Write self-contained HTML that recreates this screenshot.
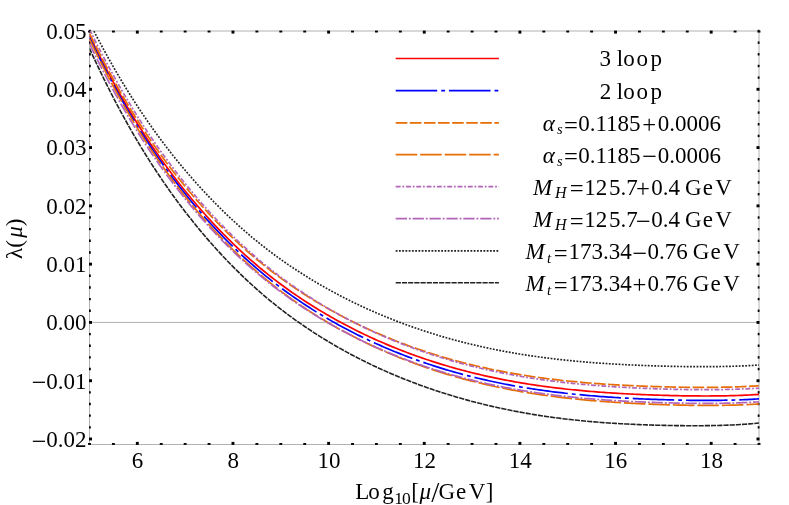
<!DOCTYPE html>
<html><head><meta charset="utf-8"><style>
html,body{margin:0;padding:0;background:#fff;}
body{width:789px;height:505px;position:relative;overflow:hidden;font-family:"Liberation Serif",serif;color:#000;}
</style></head><body>
<svg width="789" height="505" viewBox="0 0 789 505" style="position:absolute;left:0;top:0"><defs><clipPath id="c"><rect x="89.5" y="31.0" width="669.5" height="413.5"/></clipPath></defs><rect x="89.5" y="31.0" width="669.50" height="413.50" fill="none" stroke="#b2b2b2" stroke-width="1"/><line x1="89.5" y1="322.42" x2="759.0" y2="322.42" stroke="#b2b2b2" stroke-width="1"/><g stroke="#000" stroke-width="2.9"><line x1="89.50" y1="444.90" x2="89.50" y2="443.00"/><line x1="89.50" y1="30.60" x2="89.50" y2="32.50"/><line x1="113.41" y1="444.90" x2="113.41" y2="443.00"/><line x1="113.41" y1="30.60" x2="113.41" y2="32.50"/><line x1="137.32" y1="444.90" x2="137.32" y2="441.90"/><line x1="137.32" y1="30.60" x2="137.32" y2="33.60"/><line x1="161.23" y1="444.90" x2="161.23" y2="443.00"/><line x1="161.23" y1="30.60" x2="161.23" y2="32.50"/><line x1="185.14" y1="444.90" x2="185.14" y2="443.00"/><line x1="185.14" y1="30.60" x2="185.14" y2="32.50"/><line x1="209.05" y1="444.90" x2="209.05" y2="443.00"/><line x1="209.05" y1="30.60" x2="209.05" y2="32.50"/><line x1="232.96" y1="444.90" x2="232.96" y2="441.90"/><line x1="232.96" y1="30.60" x2="232.96" y2="33.60"/><line x1="256.88" y1="444.90" x2="256.88" y2="443.00"/><line x1="256.88" y1="30.60" x2="256.88" y2="32.50"/><line x1="280.79" y1="444.90" x2="280.79" y2="443.00"/><line x1="280.79" y1="30.60" x2="280.79" y2="32.50"/><line x1="304.70" y1="444.90" x2="304.70" y2="443.00"/><line x1="304.70" y1="30.60" x2="304.70" y2="32.50"/><line x1="328.61" y1="444.90" x2="328.61" y2="441.90"/><line x1="328.61" y1="30.60" x2="328.61" y2="33.60"/><line x1="352.52" y1="444.90" x2="352.52" y2="443.00"/><line x1="352.52" y1="30.60" x2="352.52" y2="32.50"/><line x1="376.43" y1="444.90" x2="376.43" y2="443.00"/><line x1="376.43" y1="30.60" x2="376.43" y2="32.50"/><line x1="400.34" y1="444.90" x2="400.34" y2="443.00"/><line x1="400.34" y1="30.60" x2="400.34" y2="32.50"/><line x1="424.25" y1="444.90" x2="424.25" y2="441.90"/><line x1="424.25" y1="30.60" x2="424.25" y2="33.60"/><line x1="448.16" y1="444.90" x2="448.16" y2="443.00"/><line x1="448.16" y1="30.60" x2="448.16" y2="32.50"/><line x1="472.07" y1="444.90" x2="472.07" y2="443.00"/><line x1="472.07" y1="30.60" x2="472.07" y2="32.50"/><line x1="495.98" y1="444.90" x2="495.98" y2="443.00"/><line x1="495.98" y1="30.60" x2="495.98" y2="32.50"/><line x1="519.89" y1="444.90" x2="519.89" y2="441.90"/><line x1="519.89" y1="30.60" x2="519.89" y2="33.60"/><line x1="543.80" y1="444.90" x2="543.80" y2="443.00"/><line x1="543.80" y1="30.60" x2="543.80" y2="32.50"/><line x1="567.71" y1="444.90" x2="567.71" y2="443.00"/><line x1="567.71" y1="30.60" x2="567.71" y2="32.50"/><line x1="591.62" y1="444.90" x2="591.62" y2="443.00"/><line x1="591.62" y1="30.60" x2="591.62" y2="32.50"/><line x1="615.54" y1="444.90" x2="615.54" y2="441.90"/><line x1="615.54" y1="30.60" x2="615.54" y2="33.60"/><line x1="639.45" y1="444.90" x2="639.45" y2="443.00"/><line x1="639.45" y1="30.60" x2="639.45" y2="32.50"/><line x1="663.36" y1="444.90" x2="663.36" y2="443.00"/><line x1="663.36" y1="30.60" x2="663.36" y2="32.50"/><line x1="687.27" y1="444.90" x2="687.27" y2="443.00"/><line x1="687.27" y1="30.60" x2="687.27" y2="32.50"/><line x1="711.18" y1="444.90" x2="711.18" y2="441.90"/><line x1="711.18" y1="30.60" x2="711.18" y2="33.60"/><line x1="735.09" y1="444.90" x2="735.09" y2="443.00"/><line x1="735.09" y1="30.60" x2="735.09" y2="32.50"/><line x1="759.00" y1="444.90" x2="759.00" y2="443.00"/><line x1="759.00" y1="30.60" x2="759.00" y2="32.50"/></g><g stroke="#000"><line x1="89.00" y1="438.99" x2="92.00" y2="438.99" stroke-width="2.9"/><line x1="759.50" y1="438.99" x2="756.50" y2="438.99" stroke-width="2.9"/><line x1="89.00" y1="427.33" x2="90.80" y2="427.33" stroke-width="2.4"/><line x1="759.50" y1="427.33" x2="757.70" y2="427.33" stroke-width="2.4"/><line x1="89.00" y1="415.67" x2="90.80" y2="415.67" stroke-width="2.4"/><line x1="759.50" y1="415.67" x2="757.70" y2="415.67" stroke-width="2.4"/><line x1="89.00" y1="404.02" x2="90.80" y2="404.02" stroke-width="2.4"/><line x1="759.50" y1="404.02" x2="757.70" y2="404.02" stroke-width="2.4"/><line x1="89.00" y1="392.36" x2="90.80" y2="392.36" stroke-width="2.4"/><line x1="759.50" y1="392.36" x2="757.70" y2="392.36" stroke-width="2.4"/><line x1="89.00" y1="380.70" x2="92.00" y2="380.70" stroke-width="2.9"/><line x1="759.50" y1="380.70" x2="756.50" y2="380.70" stroke-width="2.9"/><line x1="89.00" y1="369.05" x2="90.80" y2="369.05" stroke-width="2.4"/><line x1="759.50" y1="369.05" x2="757.70" y2="369.05" stroke-width="2.4"/><line x1="89.00" y1="357.39" x2="90.80" y2="357.39" stroke-width="2.4"/><line x1="759.50" y1="357.39" x2="757.70" y2="357.39" stroke-width="2.4"/><line x1="89.00" y1="345.73" x2="90.80" y2="345.73" stroke-width="2.4"/><line x1="759.50" y1="345.73" x2="757.70" y2="345.73" stroke-width="2.4"/><line x1="89.00" y1="334.08" x2="90.80" y2="334.08" stroke-width="2.4"/><line x1="759.50" y1="334.08" x2="757.70" y2="334.08" stroke-width="2.4"/><line x1="89.00" y1="322.42" x2="92.00" y2="322.42" stroke-width="2.9"/><line x1="759.50" y1="322.42" x2="756.50" y2="322.42" stroke-width="2.9"/><line x1="89.00" y1="310.76" x2="90.80" y2="310.76" stroke-width="2.4"/><line x1="759.50" y1="310.76" x2="757.70" y2="310.76" stroke-width="2.4"/><line x1="89.00" y1="299.11" x2="90.80" y2="299.11" stroke-width="2.4"/><line x1="759.50" y1="299.11" x2="757.70" y2="299.11" stroke-width="2.4"/><line x1="89.00" y1="287.45" x2="90.80" y2="287.45" stroke-width="2.4"/><line x1="759.50" y1="287.45" x2="757.70" y2="287.45" stroke-width="2.4"/><line x1="89.00" y1="275.79" x2="90.80" y2="275.79" stroke-width="2.4"/><line x1="759.50" y1="275.79" x2="757.70" y2="275.79" stroke-width="2.4"/><line x1="89.00" y1="264.14" x2="92.00" y2="264.14" stroke-width="2.9"/><line x1="759.50" y1="264.14" x2="756.50" y2="264.14" stroke-width="2.9"/><line x1="89.00" y1="252.48" x2="90.80" y2="252.48" stroke-width="2.4"/><line x1="759.50" y1="252.48" x2="757.70" y2="252.48" stroke-width="2.4"/><line x1="89.00" y1="240.82" x2="90.80" y2="240.82" stroke-width="2.4"/><line x1="759.50" y1="240.82" x2="757.70" y2="240.82" stroke-width="2.4"/><line x1="89.00" y1="229.17" x2="90.80" y2="229.17" stroke-width="2.4"/><line x1="759.50" y1="229.17" x2="757.70" y2="229.17" stroke-width="2.4"/><line x1="89.00" y1="217.51" x2="90.80" y2="217.51" stroke-width="2.4"/><line x1="759.50" y1="217.51" x2="757.70" y2="217.51" stroke-width="2.4"/><line x1="89.00" y1="205.85" x2="92.00" y2="205.85" stroke-width="2.9"/><line x1="759.50" y1="205.85" x2="756.50" y2="205.85" stroke-width="2.9"/><line x1="89.00" y1="194.20" x2="90.80" y2="194.20" stroke-width="2.4"/><line x1="759.50" y1="194.20" x2="757.70" y2="194.20" stroke-width="2.4"/><line x1="89.00" y1="182.54" x2="90.80" y2="182.54" stroke-width="2.4"/><line x1="759.50" y1="182.54" x2="757.70" y2="182.54" stroke-width="2.4"/><line x1="89.00" y1="170.88" x2="90.80" y2="170.88" stroke-width="2.4"/><line x1="759.50" y1="170.88" x2="757.70" y2="170.88" stroke-width="2.4"/><line x1="89.00" y1="159.22" x2="90.80" y2="159.22" stroke-width="2.4"/><line x1="759.50" y1="159.22" x2="757.70" y2="159.22" stroke-width="2.4"/><line x1="89.00" y1="147.57" x2="92.00" y2="147.57" stroke-width="2.9"/><line x1="759.50" y1="147.57" x2="756.50" y2="147.57" stroke-width="2.9"/><line x1="89.00" y1="135.91" x2="90.80" y2="135.91" stroke-width="2.4"/><line x1="759.50" y1="135.91" x2="757.70" y2="135.91" stroke-width="2.4"/><line x1="89.00" y1="124.25" x2="90.80" y2="124.25" stroke-width="2.4"/><line x1="759.50" y1="124.25" x2="757.70" y2="124.25" stroke-width="2.4"/><line x1="89.00" y1="112.60" x2="90.80" y2="112.60" stroke-width="2.4"/><line x1="759.50" y1="112.60" x2="757.70" y2="112.60" stroke-width="2.4"/><line x1="89.00" y1="100.94" x2="90.80" y2="100.94" stroke-width="2.4"/><line x1="759.50" y1="100.94" x2="757.70" y2="100.94" stroke-width="2.4"/><line x1="89.00" y1="89.28" x2="92.00" y2="89.28" stroke-width="2.9"/><line x1="759.50" y1="89.28" x2="756.50" y2="89.28" stroke-width="2.9"/><line x1="89.00" y1="77.63" x2="90.80" y2="77.63" stroke-width="2.4"/><line x1="759.50" y1="77.63" x2="757.70" y2="77.63" stroke-width="2.4"/><line x1="89.00" y1="65.97" x2="90.80" y2="65.97" stroke-width="2.4"/><line x1="759.50" y1="65.97" x2="757.70" y2="65.97" stroke-width="2.4"/><line x1="89.00" y1="54.31" x2="90.80" y2="54.31" stroke-width="2.4"/><line x1="759.50" y1="54.31" x2="757.70" y2="54.31" stroke-width="2.4"/><line x1="89.00" y1="42.66" x2="90.80" y2="42.66" stroke-width="2.4"/><line x1="759.50" y1="42.66" x2="757.70" y2="42.66" stroke-width="2.4"/><line x1="89.00" y1="31.00" x2="90.80" y2="31.00" stroke-width="2.4"/><line x1="759.50" y1="31.00" x2="757.70" y2="31.00" stroke-width="2.4"/></g><g clip-path="url(#c)" fill="none"><path d="M89.50,35.45 L91.89,40.41 L94.28,45.31 L96.67,50.15 L99.06,54.93 L101.46,59.65 L103.85,64.31 L106.24,68.92 L108.63,73.46 L111.02,77.94 L113.41,82.36 L115.80,86.73 L118.19,91.03 L120.58,95.28 L122.98,99.48 L125.37,103.61 L127.76,107.69 L130.15,111.71 L132.54,115.68 L134.93,119.60 L137.32,123.46 L139.71,127.27 L142.10,131.03 L144.49,134.74 L146.89,138.40 L149.28,142.02 L151.67,145.58 L154.06,149.10 L156.45,152.57 L158.84,156.00 L161.23,159.39 L163.62,162.73 L166.01,166.02 L168.41,169.28 L170.80,172.50 L173.19,175.67 L175.58,178.81 L177.97,181.90 L180.36,184.96 L182.75,187.98 L185.14,190.97 L187.53,193.91 L189.92,196.82 L192.32,199.70 L194.71,202.54 L197.10,205.34 L199.49,208.11 L201.88,210.85 L204.27,213.55 L206.66,216.23 L209.05,218.86 L211.44,221.47 L213.84,224.05 L216.23,226.59 L218.62,229.10 L221.01,231.58 L223.40,234.04 L225.79,236.46 L228.18,238.85 L230.57,241.21 L232.96,243.54 L235.36,245.84 L237.75,248.12 L240.14,250.36 L242.53,252.57 L244.92,254.76 L247.31,256.92 L249.70,259.04 L252.09,261.15 L254.48,263.22 L256.88,265.26 L259.27,267.28 L261.66,269.27 L264.05,271.24 L266.44,273.18 L268.83,275.09 L271.22,276.98 L273.61,278.84 L276.00,280.67 L278.39,282.49 L280.79,284.28 L283.18,286.04 L285.57,287.78 L287.96,289.50 L290.35,291.20 L292.74,292.87 L295.13,294.53 L297.52,296.16 L299.91,297.77 L302.31,299.36 L304.70,300.93 L307.09,302.48 L309.48,304.02 L311.87,305.53 L314.26,307.02 L316.65,308.50 L319.04,309.95 L321.43,311.39 L323.83,312.81 L326.22,314.22 L328.61,315.60 L331.00,316.97 L333.39,318.32 L335.78,319.66 L338.17,320.98 L340.56,322.28 L342.95,323.56 L345.34,324.83 L347.74,326.09 L350.13,327.32 L352.52,328.55 L354.91,329.75 L357.30,330.95 L359.69,332.12 L362.08,333.28 L364.47,334.43 L366.86,335.56 L369.26,336.68 L371.65,337.78 L374.04,338.87 L376.43,339.95 L378.82,341.01 L381.21,342.06 L383.60,343.09 L385.99,344.11 L388.38,345.12 L390.78,346.11 L393.17,347.09 L395.56,348.06 L397.95,349.02 L400.34,349.96 L402.73,350.89 L405.12,351.81 L407.51,352.71 L409.90,353.60 L412.29,354.48 L414.69,355.35 L417.08,356.20 L419.47,357.05 L421.86,357.88 L424.25,358.70 L426.64,359.51 L429.03,360.30 L431.42,361.09 L433.81,361.86 L436.21,362.62 L438.60,363.37 L440.99,364.11 L443.38,364.84 L445.77,365.55 L448.16,366.26 L450.55,366.95 L452.94,367.64 L455.33,368.31 L457.72,368.97 L460.12,369.62 L462.51,370.26 L464.90,370.89 L467.29,371.51 L469.68,372.12 L472.07,372.72 L474.46,373.30 L476.85,373.88 L479.24,374.45 L481.64,375.01 L484.03,375.56 L486.42,376.10 L488.81,376.63 L491.20,377.15 L493.59,377.65 L495.98,378.16 L498.37,378.65 L500.76,379.13 L503.16,379.60 L505.55,380.06 L507.94,380.52 L510.33,380.96 L512.72,381.40 L515.11,381.83 L517.50,382.25 L519.89,382.66 L522.28,383.06 L524.67,383.46 L527.07,383.84 L529.46,384.22 L531.85,384.59 L534.24,384.95 L536.63,385.31 L539.02,385.65 L541.41,385.99 L543.80,386.32 L546.19,386.64 L548.59,386.96 L550.98,387.27 L553.37,387.57 L555.76,387.86 L558.15,388.15 L560.54,388.43 L562.93,388.70 L565.32,388.97 L567.71,389.23 L570.11,389.48 L572.50,389.73 L574.89,389.97 L577.28,390.21 L579.67,390.44 L582.06,390.66 L584.45,390.87 L586.84,391.08 L589.23,391.29 L591.62,391.49 L594.02,391.68 L596.41,391.87 L598.80,392.05 L601.19,392.23 L603.58,392.40 L605.97,392.57 L608.36,392.73 L610.75,392.89 L613.14,393.05 L615.54,393.19 L617.93,393.34 L620.32,393.48 L622.71,393.61 L625.10,393.75 L627.49,393.87 L629.88,394.00 L632.27,394.12 L634.66,394.23 L637.06,394.34 L639.45,394.45 L641.84,394.56 L644.23,394.66 L646.62,394.76 L649.01,394.85 L651.40,394.94 L653.79,395.03 L656.18,395.11 L658.57,395.19 L660.97,395.26 L663.36,395.34 L665.75,395.41 L668.14,395.47 L670.53,395.53 L672.92,395.59 L675.31,395.65 L677.70,395.70 L680.09,395.74 L682.49,395.79 L684.88,395.82 L687.27,395.86 L689.66,395.89 L692.05,395.92 L694.44,395.94 L696.83,395.96 L699.22,395.97 L701.61,395.98 L704.01,395.99 L706.40,395.99 L708.79,395.98 L711.18,395.97 L713.57,395.95 L715.96,395.93 L718.35,395.91 L720.74,395.87 L723.13,395.84 L725.52,395.79 L727.92,395.74 L730.31,395.69 L732.70,395.62 L735.09,395.55 L737.48,395.48 L739.87,395.39 L742.26,395.30 L744.65,395.20 L747.04,395.09 L749.44,394.98 L751.83,394.85 L754.22,394.72 L756.61,394.58 L759.00,394.43" stroke="#ff0000" stroke-width="1.7"/><path d="M89.50,37.45 L91.89,42.44 L94.28,47.36 L96.67,52.23 L99.06,57.03 L101.46,61.78 L103.85,66.47 L106.24,71.09 L108.63,75.66 L111.02,80.16 L113.41,84.61 L115.80,89.00 L118.19,93.33 L120.58,97.60 L122.98,101.82 L125.37,105.97 L127.76,110.07 L130.15,114.12 L132.54,118.11 L134.93,122.05 L137.32,125.93 L139.71,129.76 L142.10,133.55 L144.49,137.28 L146.89,140.96 L149.28,144.59 L151.67,148.18 L154.06,151.71 L156.45,155.21 L158.84,158.66 L161.23,162.06 L163.62,165.42 L166.01,168.74 L168.41,172.01 L170.80,175.25 L173.19,178.44 L175.58,181.59 L177.97,184.71 L180.36,187.78 L182.75,190.82 L185.14,193.82 L187.53,196.79 L189.92,199.71 L192.32,202.61 L194.71,205.46 L197.10,208.28 L199.49,211.07 L201.88,213.83 L204.27,216.55 L206.66,219.23 L209.05,221.89 L211.44,224.51 L213.84,227.10 L216.23,229.66 L218.62,232.19 L221.01,234.68 L223.40,237.15 L225.79,239.59 L228.18,241.99 L230.57,244.37 L232.96,246.71 L235.36,249.03 L237.75,251.32 L240.14,253.57 L242.53,255.80 L244.92,258.00 L247.31,260.17 L249.70,262.31 L252.09,264.43 L254.48,266.51 L256.88,268.57 L259.27,270.60 L261.66,272.61 L264.05,274.59 L266.44,276.54 L268.83,278.46 L271.22,280.36 L273.61,282.23 L276.00,284.08 L278.39,285.91 L280.79,287.71 L283.18,289.48 L285.57,291.24 L287.96,292.97 L290.35,294.68 L292.74,296.36 L295.13,298.03 L297.52,299.67 L299.91,301.29 L302.31,302.89 L304.70,304.48 L307.09,306.04 L309.48,307.58 L311.87,309.10 L314.26,310.61 L316.65,312.09 L319.04,313.56 L321.43,315.01 L323.83,316.44 L326.22,317.85 L328.61,319.25 L331.00,320.62 L333.39,321.99 L335.78,323.33 L338.17,324.66 L340.56,325.97 L342.95,327.26 L345.34,328.54 L347.74,329.80 L350.13,331.05 L352.52,332.28 L354.91,333.50 L357.30,334.70 L359.69,335.88 L362.08,337.05 L364.47,338.21 L366.86,339.35 L369.26,340.47 L371.65,341.59 L374.04,342.68 L376.43,343.77 L378.82,344.84 L381.21,345.89 L383.60,346.93 L385.99,347.96 L388.38,348.98 L390.78,349.98 L393.17,350.96 L395.56,351.94 L397.95,352.90 L400.34,353.85 L402.73,354.79 L405.12,355.71 L407.51,356.62 L409.90,357.52 L412.29,358.41 L414.69,359.28 L417.08,360.14 L419.47,360.99 L421.86,361.83 L424.25,362.66 L426.64,363.47 L429.03,364.27 L431.42,365.06 L433.81,365.84 L436.21,366.61 L438.60,367.37 L440.99,368.11 L443.38,368.84 L445.77,369.57 L448.16,370.28 L450.55,370.98 L452.94,371.67 L455.33,372.34 L457.72,373.01 L460.12,373.67 L462.51,374.31 L464.90,374.95 L467.29,375.57 L469.68,376.19 L472.07,376.79 L474.46,377.39 L476.85,377.97 L479.24,378.54 L481.64,379.11 L484.03,379.66 L486.42,380.20 L488.81,380.74 L491.20,381.26 L493.59,381.78 L495.98,382.28 L498.37,382.78 L500.76,383.26 L503.16,383.74 L505.55,384.21 L507.94,384.67 L510.33,385.12 L512.72,385.56 L515.11,385.99 L517.50,386.42 L519.89,386.83 L522.28,387.24 L524.67,387.64 L527.07,388.03 L529.46,388.41 L531.85,388.78 L534.24,389.15 L536.63,389.51 L539.02,389.86 L541.41,390.20 L543.80,390.53 L546.19,390.86 L548.59,391.18 L550.98,391.49 L553.37,391.80 L555.76,392.09 L558.15,392.38 L560.54,392.67 L562.93,392.95 L565.32,393.22 L567.71,393.48 L570.11,393.74 L572.50,393.99 L574.89,394.23 L577.28,394.47 L579.67,394.70 L582.06,394.93 L584.45,395.15 L586.84,395.36 L589.23,395.57 L591.62,395.77 L594.02,395.97 L596.41,396.16 L598.80,396.34 L601.19,396.53 L603.58,396.70 L605.97,396.87 L608.36,397.04 L610.75,397.20 L613.14,397.35 L615.54,397.51 L617.93,397.65 L620.32,397.80 L622.71,397.94 L625.10,398.07 L627.49,398.20 L629.88,398.33 L632.27,398.45 L634.66,398.57 L637.06,398.68 L639.45,398.79 L641.84,398.90 L644.23,399.00 L646.62,399.10 L649.01,399.20 L651.40,399.29 L653.79,399.38 L656.18,399.47 L658.57,399.55 L660.97,399.63 L663.36,399.70 L665.75,399.77 L668.14,399.84 L670.53,399.90 L672.92,399.96 L675.31,400.02 L677.70,400.07 L680.09,400.12 L682.49,400.17 L684.88,400.21 L687.27,400.25 L689.66,400.28 L692.05,400.31 L694.44,400.33 L696.83,400.35 L699.22,400.37 L701.61,400.38 L704.01,400.39 L706.40,400.39 L708.79,400.38 L711.18,400.38 L713.57,400.36 L715.96,400.34 L718.35,400.32 L720.74,400.29 L723.13,400.25 L725.52,400.21 L727.92,400.16 L730.31,400.11 L732.70,400.05 L735.09,399.98 L737.48,399.90 L739.87,399.82 L742.26,399.73 L744.65,399.63 L747.04,399.53 L749.44,399.41 L751.83,399.29 L754.22,399.16 L756.61,399.02 L759.00,398.87" stroke="#0000ff" stroke-width="1.7" stroke-dasharray="41.5 4 3.8 4"/><path d="M89.50,33.45 L91.89,38.33 L94.28,43.16 L96.67,47.92 L99.06,52.63 L101.46,57.27 L103.85,61.86 L106.24,66.39 L108.63,70.86 L111.02,75.27 L113.41,79.63 L115.80,83.92 L118.19,88.16 L120.58,92.34 L122.98,96.47 L125.37,100.54 L127.76,104.55 L130.15,108.51 L132.54,112.41 L134.93,116.27 L137.32,120.07 L139.71,123.82 L142.10,127.51 L144.49,131.16 L146.89,134.76 L149.28,138.32 L151.67,141.82 L154.06,145.29 L156.45,148.70 L158.84,152.07 L161.23,155.40 L163.62,158.69 L166.01,161.93 L168.41,165.13 L170.80,168.29 L173.19,171.42 L175.58,174.50 L177.97,177.54 L180.36,180.55 L182.75,183.52 L185.14,186.45 L187.53,189.35 L189.92,192.21 L192.32,195.04 L194.71,197.83 L197.10,200.59 L199.49,203.31 L201.88,206.00 L204.27,208.66 L206.66,211.29 L209.05,213.88 L211.44,216.44 L213.84,218.97 L216.23,221.47 L218.62,223.94 L221.01,226.38 L223.40,228.79 L225.79,231.17 L228.18,233.52 L230.57,235.84 L232.96,238.13 L235.36,240.40 L237.75,242.63 L240.14,244.83 L242.53,247.01 L244.92,249.16 L247.31,251.28 L249.70,253.37 L252.09,255.43 L254.48,257.47 L256.88,259.48 L259.27,261.46 L261.66,263.42 L264.05,265.35 L266.44,267.25 L268.83,269.13 L271.22,270.98 L273.61,272.81 L276.00,274.62 L278.39,276.40 L280.79,278.15 L283.18,279.89 L285.57,281.60 L287.96,283.28 L290.35,284.95 L292.74,286.60 L295.13,288.22 L297.52,289.82 L299.91,291.40 L302.31,292.97 L304.70,294.51 L307.09,296.03 L309.48,297.53 L311.87,299.02 L314.26,300.48 L316.65,301.93 L319.04,303.36 L321.43,304.77 L323.83,306.17 L326.22,307.55 L328.61,308.91 L331.00,310.25 L333.39,311.58 L335.78,312.89 L338.17,314.18 L340.56,315.46 L342.95,316.72 L345.34,317.97 L347.74,319.20 L350.13,320.41 L352.52,321.61 L354.91,322.79 L357.30,323.96 L359.69,325.12 L362.08,326.26 L364.47,327.38 L366.86,328.49 L369.26,329.59 L371.65,330.67 L374.04,331.74 L376.43,332.79 L378.82,333.84 L381.21,334.86 L383.60,335.88 L385.99,336.88 L388.38,337.87 L390.78,338.84 L393.17,339.80 L395.56,340.75 L397.95,341.69 L400.34,342.61 L402.73,343.52 L405.12,344.42 L407.51,345.31 L409.90,346.18 L412.29,347.04 L414.69,347.89 L417.08,348.73 L419.47,349.56 L421.86,350.37 L424.25,351.18 L426.64,351.97 L429.03,352.75 L431.42,353.52 L433.81,354.27 L436.21,355.02 L438.60,355.75 L440.99,356.48 L443.38,357.19 L445.77,357.89 L448.16,358.58 L450.55,359.26 L452.94,359.93 L455.33,360.59 L457.72,361.23 L460.12,361.87 L462.51,362.50 L464.90,363.11 L467.29,363.72 L469.68,364.31 L472.07,364.90 L474.46,365.47 L476.85,366.04 L479.24,366.60 L481.64,367.14 L484.03,367.68 L486.42,368.20 L488.81,368.72 L491.20,369.23 L493.59,369.73 L495.98,370.21 L498.37,370.69 L500.76,371.16 L503.16,371.62 L505.55,372.08 L507.94,372.52 L510.33,372.96 L512.72,373.38 L515.11,373.80 L517.50,374.21 L519.89,374.61 L522.28,375.00 L524.67,375.38 L527.07,375.76 L529.46,376.13 L531.85,376.49 L534.24,376.84 L536.63,377.18 L539.02,377.52 L541.41,377.85 L543.80,378.17 L546.19,378.48 L548.59,378.79 L550.98,379.09 L553.37,379.38 L555.76,379.67 L558.15,379.94 L560.54,380.22 L562.93,380.48 L565.32,380.74 L567.71,380.99 L570.11,381.23 L572.50,381.47 L574.89,381.71 L577.28,381.93 L579.67,382.15 L582.06,382.37 L584.45,382.58 L586.84,382.78 L589.23,382.98 L591.62,383.17 L594.02,383.35 L596.41,383.53 L598.80,383.71 L601.19,383.88 L603.58,384.05 L605.97,384.21 L608.36,384.36 L610.75,384.51 L613.14,384.66 L615.54,384.80 L617.93,384.94 L620.32,385.07 L622.71,385.20 L625.10,385.33 L627.49,385.45 L629.88,385.57 L632.27,385.68 L634.66,385.79 L637.06,385.89 L639.45,386.00 L641.84,386.10 L644.23,386.19 L646.62,386.28 L649.01,386.37 L651.40,386.45 L653.79,386.53 L656.18,386.61 L658.57,386.69 L660.97,386.76 L663.36,386.82 L665.75,386.89 L668.14,386.95 L670.53,387.00 L672.92,387.06 L675.31,387.11 L677.70,387.15 L680.09,387.19 L682.49,387.23 L684.88,387.26 L687.27,387.29 L689.66,387.32 L692.05,387.34 L694.44,387.36 L696.83,387.37 L699.22,387.38 L701.61,387.39 L704.01,387.39 L706.40,387.38 L708.79,387.37 L711.18,387.36 L713.57,387.34 L715.96,387.31 L718.35,387.28 L720.74,387.25 L723.13,387.20 L725.52,387.16 L727.92,387.10 L730.31,387.04 L732.70,386.97 L735.09,386.90 L737.48,386.82 L739.87,386.73 L742.26,386.64 L744.65,386.53 L747.04,386.42 L749.44,386.30 L751.83,386.18 L754.22,386.04 L756.61,385.90 L759.00,385.74" stroke="#E66E05" stroke-width="1.7" stroke-dasharray="11.6 2.5"/><path d="M89.50,39.05 L91.89,44.06 L94.28,49.02 L96.67,53.91 L99.06,58.75 L101.46,63.52 L103.85,68.24 L106.24,72.89 L108.63,77.48 L111.02,82.02 L113.41,86.49 L115.80,90.91 L118.19,95.26 L120.58,99.56 L122.98,103.80 L125.37,107.99 L127.76,112.11 L130.15,116.19 L132.54,120.20 L134.93,124.17 L137.32,128.07 L139.71,131.93 L142.10,135.74 L144.49,139.49 L146.89,143.20 L149.28,146.86 L151.67,150.47 L154.06,154.03 L156.45,157.55 L158.84,161.02 L161.23,164.45 L163.62,167.83 L166.01,171.17 L168.41,174.47 L170.80,177.73 L173.19,180.94 L175.58,184.12 L177.97,187.26 L180.36,190.35 L182.75,193.41 L185.14,196.44 L187.53,199.42 L189.92,202.37 L192.32,205.28 L194.71,208.16 L197.10,211.01 L199.49,213.81 L201.88,216.59 L204.27,219.33 L206.66,222.04 L209.05,224.71 L211.44,227.36 L213.84,229.97 L216.23,232.55 L218.62,235.09 L221.01,237.61 L223.40,240.10 L225.79,242.55 L228.18,244.98 L230.57,247.37 L232.96,249.74 L235.36,252.07 L237.75,254.38 L240.14,256.65 L242.53,258.90 L244.92,261.12 L247.31,263.31 L249.70,265.47 L252.09,267.60 L254.48,269.70 L256.88,271.78 L259.27,273.83 L261.66,275.85 L264.05,277.85 L266.44,279.81 L268.83,281.76 L271.22,283.67 L273.61,285.56 L276.00,287.43 L278.39,289.27 L280.79,291.09 L283.18,292.88 L285.57,294.65 L287.96,296.40 L290.35,298.12 L292.74,299.82 L295.13,301.50 L297.52,303.16 L299.91,304.80 L302.31,306.42 L304.70,308.01 L307.09,309.59 L309.48,311.15 L311.87,312.69 L314.26,314.21 L316.65,315.71 L319.04,317.19 L321.43,318.65 L323.83,320.10 L326.22,321.52 L328.61,322.93 L331.00,324.33 L333.39,325.70 L335.78,327.06 L338.17,328.40 L340.56,329.73 L342.95,331.04 L345.34,332.33 L347.74,333.60 L350.13,334.86 L352.52,336.11 L354.91,337.34 L357.30,338.55 L359.69,339.75 L362.08,340.93 L364.47,342.10 L366.86,343.25 L369.26,344.39 L371.65,345.52 L374.04,346.63 L376.43,347.72 L378.82,348.80 L381.21,349.87 L383.60,350.92 L385.99,351.96 L388.38,352.99 L390.78,354.00 L393.17,355.00 L395.56,355.99 L397.95,356.96 L400.34,357.93 L402.73,358.87 L405.12,359.81 L407.51,360.73 L409.90,361.64 L412.29,362.54 L414.69,363.42 L417.08,364.30 L419.47,365.16 L421.86,366.01 L424.25,366.84 L426.64,367.67 L429.03,368.48 L431.42,369.28 L433.81,370.07 L436.21,370.85 L438.60,371.62 L440.99,372.37 L443.38,373.11 L445.77,373.85 L448.16,374.57 L450.55,375.28 L452.94,375.98 L455.33,376.66 L457.72,377.34 L460.12,378.01 L462.51,378.66 L464.90,379.31 L467.29,379.94 L469.68,380.56 L472.07,381.18 L474.46,381.78 L476.85,382.37 L479.24,382.95 L481.64,383.53 L484.03,384.09 L486.42,384.64 L488.81,385.18 L491.20,385.72 L493.59,386.24 L495.98,386.75 L498.37,387.26 L500.76,387.75 L503.16,388.24 L505.55,388.72 L507.94,389.18 L510.33,389.64 L512.72,390.09 L515.11,390.53 L517.50,390.96 L519.89,391.39 L522.28,391.80 L524.67,392.21 L527.07,392.61 L529.46,393.00 L531.85,393.38 L534.24,393.75 L536.63,394.12 L539.02,394.47 L541.41,394.82 L543.80,395.17 L546.19,395.50 L548.59,395.83 L550.98,396.15 L553.37,396.46 L555.76,396.76 L558.15,397.06 L560.54,397.35 L562.93,397.64 L565.32,397.91 L567.71,398.18 L570.11,398.45 L572.50,398.71 L574.89,398.96 L577.28,399.20 L579.67,399.44 L582.06,399.67 L584.45,399.90 L586.84,400.12 L589.23,400.33 L591.62,400.54 L594.02,400.74 L596.41,400.94 L598.80,401.13 L601.19,401.32 L603.58,401.50 L605.97,401.68 L608.36,401.85 L610.75,402.02 L613.14,402.18 L615.54,402.34 L617.93,402.49 L620.32,402.64 L622.71,402.79 L625.10,402.93 L627.49,403.06 L629.88,403.19 L632.27,403.32 L634.66,403.45 L637.06,403.57 L639.45,403.68 L641.84,403.79 L644.23,403.90 L646.62,404.01 L649.01,404.11 L651.40,404.21 L653.79,404.30 L656.18,404.39 L658.57,404.48 L660.97,404.56 L663.36,404.64 L665.75,404.72 L668.14,404.79 L670.53,404.86 L672.92,404.93 L675.31,404.99 L677.70,405.05 L680.09,405.10 L682.49,405.15 L684.88,405.20 L687.27,405.24 L689.66,405.28 L692.05,405.31 L694.44,405.34 L696.83,405.36 L699.22,405.38 L701.61,405.40 L704.01,405.41 L706.40,405.42 L708.79,405.42 L711.18,405.41 L713.57,405.40 L715.96,405.39 L718.35,405.37 L720.74,405.34 L723.13,405.31 L725.52,405.27 L727.92,405.23 L730.31,405.18 L732.70,405.12 L735.09,405.06 L737.48,404.99 L739.87,404.91 L742.26,404.82 L744.65,404.73 L747.04,404.63 L749.44,404.52 L751.83,404.40 L754.22,404.27 L756.61,404.14 L759.00,403.99" stroke="#E66E05" stroke-width="1.7" stroke-dasharray="21.5 3"/><path d="M89.50,29.45 L91.89,34.26 L94.28,39.02 L96.67,43.74 L99.06,48.41 L101.46,53.03 L103.85,57.59 L106.24,62.11 L108.63,66.58 L111.02,71.00 L113.41,75.36 L115.80,79.67 L118.19,83.93 L120.58,88.14 L122.98,92.29 L125.37,96.39 L127.76,100.44 L130.15,104.43 L132.54,108.38 L134.93,112.27 L137.32,116.11 L139.71,119.91 L142.10,123.65 L144.49,127.35 L146.89,131.00 L149.28,134.60 L151.67,138.16 L154.06,141.67 L156.45,145.14 L158.84,148.56 L161.23,151.94 L163.62,155.28 L166.01,158.58 L168.41,161.84 L170.80,165.05 L173.19,168.23 L175.58,171.36 L177.97,174.46 L180.36,177.52 L182.75,180.55 L185.14,183.53 L187.53,186.48 L189.92,189.40 L192.32,192.28 L194.71,195.12 L197.10,197.93 L199.49,200.71 L201.88,203.45 L204.27,206.16 L206.66,208.84 L209.05,211.48 L211.44,214.10 L213.84,216.68 L216.23,219.23 L218.62,221.75 L221.01,224.24 L223.40,226.70 L225.79,229.12 L228.18,231.52 L230.57,233.89 L232.96,236.23 L235.36,238.54 L237.75,240.82 L240.14,243.07 L242.53,245.30 L244.92,247.49 L247.31,249.66 L249.70,251.79 L252.09,253.90 L254.48,255.99 L256.88,258.04 L259.27,260.07 L261.66,262.07 L264.05,264.04 L266.44,265.99 L268.83,267.91 L271.22,269.81 L273.61,271.68 L276.00,273.52 L278.39,275.34 L280.79,277.14 L283.18,278.92 L285.57,280.67 L287.96,282.40 L290.35,284.10 L292.74,285.79 L295.13,287.45 L297.52,289.09 L299.91,290.71 L302.31,292.31 L304.70,293.89 L307.09,295.45 L309.48,296.99 L311.87,298.52 L314.26,300.02 L316.65,301.50 L319.04,302.97 L321.43,304.42 L323.83,305.85 L326.22,307.26 L328.61,308.65 L331.00,310.03 L333.39,311.39 L335.78,312.74 L338.17,314.06 L340.56,315.37 L342.95,316.67 L345.34,317.95 L347.74,319.21 L350.13,320.45 L352.52,321.69 L354.91,322.90 L357.30,324.10 L359.69,325.29 L362.08,326.46 L364.47,327.61 L366.86,328.75 L369.26,329.88 L371.65,330.99 L374.04,332.09 L376.43,333.17 L378.82,334.24 L381.21,335.30 L383.60,336.34 L385.99,337.37 L388.38,338.38 L390.78,339.38 L393.17,340.37 L395.56,341.35 L397.95,342.31 L400.34,343.26 L402.73,344.19 L405.12,345.12 L407.51,346.03 L409.90,346.93 L412.29,347.81 L414.69,348.69 L417.08,349.55 L419.47,350.40 L421.86,351.24 L424.25,352.07 L426.64,352.88 L429.03,353.68 L431.42,354.47 L433.81,355.25 L436.21,356.02 L438.60,356.77 L440.99,357.52 L443.38,358.25 L445.77,358.97 L448.16,359.69 L450.55,360.39 L452.94,361.07 L455.33,361.75 L457.72,362.42 L460.12,363.07 L462.51,363.72 L464.90,364.35 L467.29,364.98 L469.68,365.59 L472.07,366.20 L474.46,366.79 L476.85,367.37 L479.24,367.95 L481.64,368.51 L484.03,369.06 L486.42,369.60 L488.81,370.14 L491.20,370.66 L493.59,371.18 L495.98,371.68 L498.37,372.18 L500.76,372.66 L503.16,373.14 L505.55,373.61 L507.94,374.06 L510.33,374.51 L512.72,374.95 L515.11,375.39 L517.50,375.81 L519.89,376.22 L522.28,376.63 L524.67,377.03 L527.07,377.42 L529.46,377.80 L531.85,378.17 L534.24,378.53 L536.63,378.89 L539.02,379.24 L541.41,379.58 L543.80,379.92 L546.19,380.24 L548.59,380.56 L550.98,380.87 L553.37,381.17 L555.76,381.47 L558.15,381.76 L560.54,382.04 L562.93,382.32 L565.32,382.59 L567.71,382.85 L570.11,383.11 L572.50,383.36 L574.89,383.60 L577.28,383.83 L579.67,384.06 L582.06,384.29 L584.45,384.51 L586.84,384.72 L589.23,384.93 L591.62,385.13 L594.02,385.32 L596.41,385.51 L598.80,385.70 L601.19,385.88 L603.58,386.05 L605.97,386.22 L608.36,386.39 L610.75,386.54 L613.14,386.70 L615.54,386.85 L617.93,387.00 L620.32,387.14 L622.71,387.27 L625.10,387.41 L627.49,387.54 L629.88,387.66 L632.27,387.78 L634.66,387.90 L637.06,388.01 L639.45,388.12 L641.84,388.23 L644.23,388.33 L646.62,388.43 L649.01,388.52 L651.40,388.61 L653.79,388.70 L656.18,388.78 L658.57,388.86 L660.97,388.94 L663.36,389.01 L665.75,389.08 L668.14,389.15 L670.53,389.21 L672.92,389.27 L675.31,389.33 L677.70,389.38 L680.09,389.42 L682.49,389.47 L684.88,389.51 L687.27,389.54 L689.66,389.57 L692.05,389.60 L694.44,389.62 L696.83,389.64 L699.22,389.66 L701.61,389.67 L704.01,389.67 L706.40,389.67 L708.79,389.67 L711.18,389.66 L713.57,389.64 L715.96,389.62 L718.35,389.60 L720.74,389.56 L723.13,389.53 L725.52,389.48 L727.92,389.43 L730.31,389.38 L732.70,389.31 L735.09,389.24 L737.48,389.17 L739.87,389.08 L742.26,388.99 L744.65,388.89 L747.04,388.79 L749.44,388.67 L751.83,388.55 L754.22,388.42 L756.61,388.28 L759.00,388.13" stroke="#B264B9" stroke-width="1.7" stroke-dasharray="4.9 1.8 1.8 1.8"/><path d="M89.50,43.65 L91.89,48.60 L94.28,53.48 L96.67,58.31 L99.06,63.08 L101.46,67.79 L103.85,72.44 L106.24,77.03 L108.63,81.56 L111.02,86.03 L113.41,90.44 L115.80,94.79 L118.19,99.09 L120.58,103.33 L122.98,107.51 L125.37,111.63 L127.76,115.70 L130.15,119.72 L132.54,123.68 L134.93,127.58 L137.32,131.43 L139.71,135.24 L142.10,138.99 L144.49,142.69 L146.89,146.34 L149.28,149.94 L151.67,153.50 L154.06,157.01 L156.45,160.47 L158.84,163.89 L161.23,167.27 L163.62,170.60 L166.01,173.89 L168.41,177.14 L170.80,180.35 L173.19,183.52 L175.58,186.65 L177.97,189.74 L180.36,192.79 L182.75,195.80 L185.14,198.78 L187.53,201.72 L189.92,204.62 L192.32,207.49 L194.71,210.32 L197.10,213.12 L199.49,215.88 L201.88,218.62 L204.27,221.31 L206.66,223.98 L209.05,226.61 L211.44,229.21 L213.84,231.78 L216.23,234.32 L218.62,236.83 L221.01,239.30 L223.40,241.75 L225.79,244.17 L228.18,246.55 L230.57,248.91 L232.96,251.23 L235.36,253.53 L237.75,255.80 L240.14,258.04 L242.53,260.25 L244.92,262.43 L247.31,264.58 L249.70,266.71 L252.09,268.80 L254.48,270.87 L256.88,272.91 L259.27,274.93 L261.66,276.91 L264.05,278.88 L266.44,280.81 L268.83,282.72 L271.22,284.60 L273.61,286.46 L276.00,288.29 L278.39,290.10 L280.79,291.89 L283.18,293.65 L285.57,295.39 L287.96,297.10 L290.35,298.80 L292.74,300.47 L295.13,302.12 L297.52,303.75 L299.91,305.35 L302.31,306.94 L304.70,308.51 L307.09,310.06 L309.48,311.59 L311.87,313.10 L314.26,314.59 L316.65,316.06 L319.04,317.52 L321.43,318.95 L323.83,320.37 L326.22,321.77 L328.61,323.15 L331.00,324.52 L333.39,325.87 L335.78,327.20 L338.17,328.52 L340.56,329.82 L342.95,331.10 L345.34,332.37 L347.74,333.62 L350.13,334.85 L352.52,336.07 L354.91,337.28 L357.30,338.47 L359.69,339.64 L362.08,340.80 L364.47,341.95 L366.86,343.08 L369.26,344.19 L371.65,345.30 L374.04,346.38 L376.43,347.46 L378.82,348.52 L381.21,349.56 L383.60,350.60 L385.99,351.61 L388.38,352.62 L390.78,353.61 L393.17,354.59 L395.56,355.56 L397.95,356.51 L400.34,357.45 L402.73,358.38 L405.12,359.29 L407.51,360.20 L409.90,361.09 L412.29,361.97 L414.69,362.83 L417.08,363.69 L419.47,364.53 L421.86,365.36 L424.25,366.18 L426.64,366.98 L429.03,367.78 L431.42,368.56 L433.81,369.33 L436.21,370.09 L438.60,370.84 L440.99,371.58 L443.38,372.30 L445.77,373.02 L448.16,373.72 L450.55,374.42 L452.94,375.10 L455.33,375.77 L457.72,376.43 L460.12,377.08 L462.51,377.72 L464.90,378.35 L467.29,378.97 L469.68,379.57 L472.07,380.17 L474.46,380.76 L476.85,381.34 L479.24,381.90 L481.64,382.46 L484.03,383.01 L486.42,383.55 L488.81,384.08 L491.20,384.59 L493.59,385.10 L495.98,385.60 L498.37,386.09 L500.76,386.57 L503.16,387.05 L505.55,387.51 L507.94,387.96 L510.33,388.41 L512.72,388.84 L515.11,389.27 L517.50,389.69 L519.89,390.10 L522.28,390.50 L524.67,390.90 L527.07,391.28 L529.46,391.66 L531.85,392.03 L534.24,392.39 L536.63,392.74 L539.02,393.09 L541.41,393.42 L543.80,393.75 L546.19,394.08 L548.59,394.39 L550.98,394.70 L553.37,395.00 L555.76,395.29 L558.15,395.58 L560.54,395.86 L562.93,396.13 L565.32,396.40 L567.71,396.66 L570.11,396.91 L572.50,397.16 L574.89,397.40 L577.28,397.63 L579.67,397.86 L582.06,398.08 L584.45,398.30 L586.84,398.51 L589.23,398.71 L591.62,398.91 L594.02,399.11 L596.41,399.29 L598.80,399.48 L601.19,399.65 L603.58,399.83 L605.97,399.99 L608.36,400.16 L610.75,400.31 L613.14,400.47 L615.54,400.62 L617.93,400.76 L620.32,400.90 L622.71,401.03 L625.10,401.17 L627.49,401.29 L629.88,401.42 L632.27,401.54 L634.66,401.65 L637.06,401.76 L639.45,401.87 L641.84,401.97 L644.23,402.08 L646.62,402.17 L649.01,402.27 L651.40,402.36 L653.79,402.44 L656.18,402.52 L658.57,402.60 L660.97,402.68 L663.36,402.75 L665.75,402.82 L668.14,402.89 L670.53,402.95 L672.92,403.00 L675.31,403.06 L677.70,403.11 L680.09,403.16 L682.49,403.20 L684.88,403.24 L687.27,403.27 L689.66,403.30 L692.05,403.33 L694.44,403.35 L696.83,403.37 L699.22,403.38 L701.61,403.39 L704.01,403.40 L706.40,403.40 L708.79,403.39 L711.18,403.38 L713.57,403.36 L715.96,403.34 L718.35,403.32 L720.74,403.28 L723.13,403.25 L725.52,403.20 L727.92,403.15 L730.31,403.09 L732.70,403.03 L735.09,402.96 L737.48,402.88 L739.87,402.80 L742.26,402.71 L744.65,402.61 L747.04,402.50 L749.44,402.39 L751.83,402.26 L754.22,402.13 L756.61,401.99 L759.00,401.84" stroke="#B264B9" stroke-width="1.7" stroke-dasharray="11.3 1.9 1.9 1.8"/><path d="M89.50,22.45 L91.89,27.15 L94.28,31.80 L96.67,36.39 L99.06,40.93 L101.46,45.41 L103.85,49.83 L106.24,54.20 L108.63,58.51 L111.02,62.76 L113.41,66.96 L115.80,71.11 L118.19,75.20 L120.58,79.23 L122.98,83.21 L125.37,87.14 L127.76,91.02 L130.15,94.84 L132.54,98.61 L134.93,102.33 L137.32,106.01 L139.71,109.63 L142.10,113.20 L144.49,116.73 L146.89,120.21 L149.28,123.65 L151.67,127.04 L154.06,130.39 L156.45,133.69 L158.84,136.95 L161.23,140.17 L163.62,143.35 L166.01,146.49 L168.41,149.59 L170.80,152.66 L173.19,155.68 L175.58,158.67 L177.97,161.62 L180.36,164.53 L182.75,167.41 L185.14,170.25 L187.53,173.06 L189.92,175.83 L192.32,178.58 L194.71,181.28 L197.10,183.96 L199.49,186.60 L201.88,189.22 L204.27,191.80 L206.66,194.35 L209.05,196.86 L211.44,199.35 L213.84,201.81 L216.23,204.24 L218.62,206.64 L221.01,209.01 L223.40,211.36 L225.79,213.67 L228.18,215.95 L230.57,218.21 L232.96,220.44 L235.36,222.64 L237.75,224.82 L240.14,226.96 L242.53,229.08 L244.92,231.17 L247.31,233.23 L249.70,235.27 L252.09,237.28 L254.48,239.27 L256.88,241.22 L259.27,243.16 L261.66,245.06 L264.05,246.94 L266.44,248.80 L268.83,250.63 L271.22,252.44 L273.61,254.22 L276.00,255.98 L278.39,257.72 L280.79,259.43 L283.18,261.12 L285.57,262.79 L287.96,264.44 L290.35,266.07 L292.74,267.67 L295.13,269.26 L297.52,270.82 L299.91,272.37 L302.31,273.89 L304.70,275.40 L307.09,276.89 L309.48,278.36 L311.87,279.81 L314.26,281.24 L316.65,282.66 L319.04,284.06 L321.43,285.44 L323.83,286.80 L326.22,288.15 L328.61,289.48 L331.00,290.80 L333.39,292.10 L335.78,293.38 L338.17,294.64 L340.56,295.90 L342.95,297.13 L345.34,298.35 L347.74,299.56 L350.13,300.75 L352.52,301.92 L354.91,303.08 L357.30,304.23 L359.69,305.36 L362.08,306.48 L364.47,307.58 L366.86,308.67 L369.26,309.75 L371.65,310.81 L374.04,311.86 L376.43,312.89 L378.82,313.92 L381.21,314.93 L383.60,315.92 L385.99,316.90 L388.38,317.87 L390.78,318.83 L393.17,319.78 L395.56,320.71 L397.95,321.63 L400.34,322.54 L402.73,323.43 L405.12,324.32 L407.51,325.19 L409.90,326.05 L412.29,326.90 L414.69,327.73 L417.08,328.56 L419.47,329.37 L421.86,330.17 L424.25,330.96 L426.64,331.74 L429.03,332.51 L431.42,333.26 L433.81,334.01 L436.21,334.74 L438.60,335.47 L440.99,336.18 L443.38,336.88 L445.77,337.57 L448.16,338.25 L450.55,338.92 L452.94,339.58 L455.33,340.23 L457.72,340.87 L460.12,341.49 L462.51,342.11 L464.90,342.72 L467.29,343.31 L469.68,343.90 L472.07,344.48 L474.46,345.05 L476.85,345.60 L479.24,346.15 L481.64,346.69 L484.03,347.22 L486.42,347.74 L488.81,348.25 L491.20,348.75 L493.59,349.24 L495.98,349.72 L498.37,350.19 L500.76,350.66 L503.16,351.11 L505.55,351.56 L507.94,352.00 L510.33,352.43 L512.72,352.85 L515.11,353.26 L517.50,353.66 L519.89,354.06 L522.28,354.44 L524.67,354.82 L527.07,355.19 L529.46,355.56 L531.85,355.91 L534.24,356.26 L536.63,356.60 L539.02,356.93 L541.41,357.26 L543.80,357.57 L546.19,357.88 L548.59,358.19 L550.98,358.48 L553.37,358.77 L555.76,359.05 L558.15,359.33 L560.54,359.60 L562.93,359.86 L565.32,360.11 L567.71,360.36 L570.11,360.60 L572.50,360.84 L574.89,361.07 L577.28,361.29 L579.67,361.51 L582.06,361.72 L584.45,361.93 L586.84,362.13 L589.23,362.32 L591.62,362.51 L594.02,362.70 L596.41,362.88 L598.80,363.05 L601.19,363.22 L603.58,363.38 L605.97,363.54 L608.36,363.69 L610.75,363.84 L613.14,363.99 L615.54,364.13 L617.93,364.26 L620.32,364.40 L622.71,364.52 L625.10,364.65 L627.49,364.77 L629.88,364.88 L632.27,365.00 L634.66,365.10 L637.06,365.21 L639.45,365.31 L641.84,365.41 L644.23,365.50 L646.62,365.59 L649.01,365.68 L651.40,365.76 L653.79,365.84 L656.18,365.92 L658.57,365.99 L660.97,366.06 L663.36,366.13 L665.75,366.19 L668.14,366.25 L670.53,366.31 L672.92,366.36 L675.31,366.41 L677.70,366.45 L680.09,366.49 L682.49,366.53 L684.88,366.56 L687.27,366.59 L689.66,366.62 L692.05,366.64 L694.44,366.66 L696.83,366.67 L699.22,366.68 L701.61,366.69 L704.01,366.68 L706.40,366.68 L708.79,366.67 L711.18,366.66 L713.57,366.64 L715.96,366.61 L718.35,366.58 L720.74,366.54 L723.13,366.50 L725.52,366.45 L727.92,366.40 L730.31,366.34 L732.70,366.27 L735.09,366.20 L737.48,366.12 L739.87,366.03 L742.26,365.93 L744.65,365.83 L747.04,365.72 L749.44,365.60 L751.83,365.47 L754.22,365.34 L756.61,365.19 L759.00,365.04" stroke="#222222" stroke-width="1.65" stroke-dasharray="1.8 1.45"/><path d="M89.50,48.45 L91.89,53.67 L94.28,58.82 L96.67,63.91 L99.06,68.94 L101.46,73.90 L103.85,78.80 L106.24,83.63 L108.63,88.41 L111.02,93.12 L113.41,97.76 L115.80,102.35 L118.19,106.87 L120.58,111.34 L122.98,115.74 L125.37,120.08 L127.76,124.36 L130.15,128.59 L132.54,132.75 L134.93,136.86 L137.32,140.92 L139.71,144.92 L142.10,148.86 L144.49,152.75 L146.89,156.59 L149.28,160.38 L151.67,164.12 L154.06,167.81 L156.45,171.45 L158.84,175.05 L161.23,178.60 L163.62,182.10 L166.01,185.56 L168.41,188.97 L170.80,192.34 L173.19,195.66 L175.58,198.95 L177.97,202.19 L180.36,205.40 L182.75,208.56 L185.14,211.68 L187.53,214.76 L189.92,217.81 L192.32,220.82 L194.71,223.79 L197.10,226.72 L199.49,229.62 L201.88,232.49 L204.27,235.31 L206.66,238.11 L209.05,240.86 L211.44,243.59 L213.84,246.28 L216.23,248.94 L218.62,251.56 L221.01,254.16 L223.40,256.72 L225.79,259.24 L228.18,261.74 L230.57,264.21 L232.96,266.64 L235.36,269.04 L237.75,271.41 L240.14,273.76 L242.53,276.07 L244.92,278.35 L247.31,280.60 L249.70,282.82 L252.09,285.01 L254.48,287.17 L256.88,289.30 L259.27,291.41 L261.66,293.48 L264.05,295.53 L266.44,297.55 L268.83,299.55 L271.22,301.51 L273.61,303.45 L276.00,305.37 L278.39,307.26 L280.79,309.12 L283.18,310.96 L285.57,312.77 L287.96,314.56 L290.35,316.33 L292.74,318.08 L295.13,319.80 L297.52,321.50 L299.91,323.18 L302.31,324.83 L304.70,326.47 L307.09,328.08 L309.48,329.68 L311.87,331.25 L314.26,332.81 L316.65,334.34 L319.04,335.86 L321.43,337.35 L323.83,338.83 L326.22,340.29 L328.61,341.73 L331.00,343.16 L333.39,344.56 L335.78,345.95 L338.17,347.32 L340.56,348.67 L342.95,350.01 L345.34,351.33 L347.74,352.63 L350.13,353.92 L352.52,355.19 L354.91,356.45 L357.30,357.69 L359.69,358.91 L362.08,360.12 L364.47,361.31 L366.86,362.49 L369.26,363.65 L371.65,364.80 L374.04,365.93 L376.43,367.05 L378.82,368.15 L381.21,369.24 L383.60,370.32 L385.99,371.38 L388.38,372.43 L390.78,373.47 L393.17,374.49 L395.56,375.50 L397.95,376.49 L400.34,377.47 L402.73,378.44 L405.12,379.40 L407.51,380.34 L409.90,381.28 L412.29,382.19 L414.69,383.10 L417.08,383.99 L419.47,384.88 L421.86,385.75 L424.25,386.61 L426.64,387.45 L429.03,388.29 L431.42,389.11 L433.81,389.92 L436.21,390.72 L438.60,391.51 L440.99,392.29 L443.38,393.05 L445.77,393.81 L448.16,394.55 L450.55,395.28 L452.94,396.00 L455.33,396.71 L457.72,397.41 L460.12,398.10 L462.51,398.78 L464.90,399.45 L467.29,400.11 L469.68,400.76 L472.07,401.40 L474.46,402.02 L476.85,402.64 L479.24,403.25 L481.64,403.84 L484.03,404.43 L486.42,405.01 L488.81,405.58 L491.20,406.14 L493.59,406.68 L495.98,407.22 L498.37,407.75 L500.76,408.27 L503.16,408.78 L505.55,409.28 L507.94,409.78 L510.33,410.26 L512.72,410.73 L515.11,411.20 L517.50,411.65 L519.89,412.10 L522.28,412.54 L524.67,412.97 L527.07,413.39 L529.46,413.80 L531.85,414.20 L534.24,414.60 L536.63,414.98 L539.02,415.36 L541.41,415.73 L543.80,416.09 L546.19,416.44 L548.59,416.79 L550.98,417.12 L553.37,417.45 L555.76,417.77 L558.15,418.08 L560.54,418.39 L562.93,418.68 L565.32,418.97 L567.71,419.25 L570.11,419.53 L572.50,419.79 L574.89,420.05 L577.28,420.30 L579.67,420.55 L582.06,420.79 L584.45,421.02 L586.84,421.24 L589.23,421.45 L591.62,421.66 L594.02,421.87 L596.41,422.06 L598.80,422.25 L601.19,422.44 L603.58,422.61 L605.97,422.78 L608.36,422.95 L610.75,423.11 L613.14,423.26 L615.54,423.41 L617.93,423.55 L620.32,423.69 L622.71,423.82 L625.10,423.95 L627.49,424.07 L629.88,424.19 L632.27,424.30 L634.66,424.41 L637.06,424.51 L639.45,424.61 L641.84,424.71 L644.23,424.80 L646.62,424.88 L649.01,424.96 L651.40,425.04 L653.79,425.11 L656.18,425.18 L658.57,425.25 L660.97,425.31 L663.36,425.37 L665.75,425.42 L668.14,425.47 L670.53,425.51 L672.92,425.55 L675.31,425.59 L677.70,425.62 L680.09,425.65 L682.49,425.67 L684.88,425.69 L687.27,425.71 L689.66,425.72 L692.05,425.73 L694.44,425.73 L696.83,425.72 L699.22,425.71 L701.61,425.70 L704.01,425.68 L706.40,425.66 L708.79,425.63 L711.18,425.59 L713.57,425.55 L715.96,425.50 L718.35,425.44 L720.74,425.38 L723.13,425.31 L725.52,425.23 L727.92,425.14 L730.31,425.04 L732.70,424.94 L735.09,424.82 L737.48,424.70 L739.87,424.56 L742.26,424.42 L744.65,424.26 L747.04,424.08 L749.44,423.90 L751.83,423.69 L754.22,423.48 L756.61,423.24 L759.00,422.99" stroke="#222222" stroke-width="1.6" stroke-dasharray="5.2 1.0"/></g><line x1="395.7" y1="58.5" x2="498.9" y2="58.5" stroke="#ff0000" stroke-width="1.7"/><line x1="395.7" y1="90.6" x2="498.9" y2="90.6" stroke="#0000ff" stroke-width="1.7" stroke-dasharray="41.5 4 3.8 4"/><line x1="395.7" y1="122.8" x2="498.9" y2="122.8" stroke="#E66E05" stroke-width="1.7" stroke-dasharray="11.6 2.5"/><line x1="395.7" y1="154.6" x2="498.9" y2="154.6" stroke="#E66E05" stroke-width="1.7" stroke-dasharray="21.5 3"/><line x1="395.7" y1="186.6" x2="498.9" y2="186.6" stroke="#B264B9" stroke-width="1.7" stroke-dasharray="4.9 1.8 1.8 1.8"/><line x1="395.7" y1="218.7" x2="498.9" y2="218.7" stroke="#B264B9" stroke-width="1.7" stroke-dasharray="11.3 1.9 1.9 1.8"/><line x1="395.7" y1="250.8" x2="498.9" y2="250.8" stroke="#222222" stroke-width="1.65" stroke-dasharray="1.8 1.45"/><line x1="395.7" y1="282.7" x2="498.9" y2="282.7" stroke="#222222" stroke-width="1.6" stroke-dasharray="5.2 1.0"/></svg>
<svg width="789" height="505" viewBox="0 0 789 505" style="position:absolute;left:0;top:0;will-change:transform;opacity:0.999" font-family="Liberation Serif, serif" font-size="23" fill="#000"><text x="86.45" y="38.90" text-anchor="end">0.05</text><text x="86.45" y="97.18" text-anchor="end">0.04</text><text x="86.45" y="155.47" text-anchor="end">0.03</text><text x="86.45" y="213.75" text-anchor="end">0.02</text><text x="86.45" y="272.04" text-anchor="end">0.01</text><text x="86.45" y="330.32" text-anchor="end">0.00</text><text x="86.45" y="388.60" text-anchor="end">0.01</text><text x="31.70" y="391.45" font-size="26.2">−</text><text x="86.45" y="446.89" text-anchor="end">0.02</text><text x="31.70" y="449.74" font-size="26.2">−</text><text x="137.62" y="467.70" text-anchor="middle">6</text><text x="233.26" y="467.70" text-anchor="middle">8</text><text x="328.91" y="467.70" text-anchor="middle">10</text><text x="424.55" y="467.70" text-anchor="middle">12</text><text x="520.19" y="467.70" text-anchor="middle">14</text><text x="615.84" y="467.70" text-anchor="middle">16</text><text x="711.48" y="467.70" text-anchor="middle">18</text><text x="599.60" y="66.10">3</text><text x="616.64" y="66.10">l</text><text x="623.32" y="66.10">o</text><text x="636.52" y="66.10">o</text><text x="650.53" y="66.10">p</text><text x="599.69" y="98.60">2</text><text x="616.64" y="98.60">l</text><text x="623.32" y="98.60">o</text><text x="636.52" y="98.60">o</text><text x="650.53" y="98.60">p</text><text x="542.71" y="130.80" font-style="italic">α</text><text x="557.02" y="134.20" font-style="italic" font-size="14.5">s</text><text x="563.97" y="133.60" font-size="24.6">=</text><text x="578.22" y="130.80">0.1185</text><text x="642.27" y="133.10" font-size="24.6">+</text><text x="657.82" y="130.80">0.0006</text><text x="542.71" y="162.60" font-style="italic">α</text><text x="557.02" y="166.00" font-style="italic" font-size="14.5">s</text><text x="563.97" y="165.40" font-size="24.6">=</text><text x="578.22" y="162.60">0.1185</text><text x="642.20" y="165.45" font-size="26.2">−</text><text x="657.82" y="162.60">0.0006</text><text x="533.07" y="194.60" font-style="italic">M</text><text x="555.07" y="197.90" font-style="italic" font-size="16.0">H</text><text x="569.87" y="197.40" font-size="24.6">=</text><text x="584.28" y="194.60">12</text><text x="609.06" y="194.60">5.7</text><text x="636.07" y="196.90" font-size="24.6">+</text><text x="651.22" y="194.60">0.4</text><text x="685.06" y="194.60">G</text><text x="702.80" y="194.60">e</text><text x="715.34" y="194.60">V</text><text x="533.07" y="226.70" font-style="italic">M</text><text x="555.07" y="230.00" font-style="italic" font-size="16.0">H</text><text x="569.87" y="229.50" font-size="24.6">=</text><text x="584.28" y="226.70">12</text><text x="609.06" y="226.70">5.7</text><text x="636.00" y="229.55" font-size="26.2">−</text><text x="651.22" y="226.70">0.4</text><text x="685.06" y="226.70">G</text><text x="702.80" y="226.70">e</text><text x="715.34" y="226.70">V</text><text x="525.47" y="258.80" font-style="italic">M</text><text x="547.04" y="262.60" font-style="italic" font-size="15.0">t</text><text x="553.77" y="261.60" font-size="24.6">=</text><text x="568.48" y="258.80">173.34</text><text x="632.40" y="261.65" font-size="26.2">−</text><text x="647.52" y="258.80">0.76</text><text x="692.76" y="258.80">G</text><text x="710.50" y="258.80">e</text><text x="723.14" y="258.80">V</text><text x="525.47" y="290.70" font-style="italic">M</text><text x="547.04" y="294.50" font-style="italic" font-size="15.0">t</text><text x="553.77" y="293.50" font-size="24.6">=</text><text x="568.48" y="290.70">173.34</text><text x="632.47" y="293.00" font-size="24.6">+</text><text x="647.52" y="290.70">0.76</text><text x="692.76" y="290.70">G</text><text x="710.50" y="290.70">e</text><text x="723.14" y="290.70">V</text><text x="355.24" y="498.70">L</text><text x="368.22" y="498.70">o</text><text x="382.31" y="498.70">g</text><text x="394.26" y="504.30" font-size="17.5">1</text><text x="402.03" y="504.30" font-size="17.5">0</text><text x="411.29" y="499.40">[</text><text x="419.42" y="498.70" font-style="italic">μ</text><text x="431.30" y="502.20" font-size="29.0">/</text><text x="438.56" y="498.70">G</text><text x="456.00" y="498.70">e</text><text x="468.74" y="498.70">V</text><text x="485.87" y="499.40">]</text><g transform="translate(21.8,258.9) rotate(-90)"><text x="0" y="0">λ(</text><text x="21.2" y="0" font-style="italic">μ</text><text x="32.75" y="0">)</text></g></svg>
</body></html>
